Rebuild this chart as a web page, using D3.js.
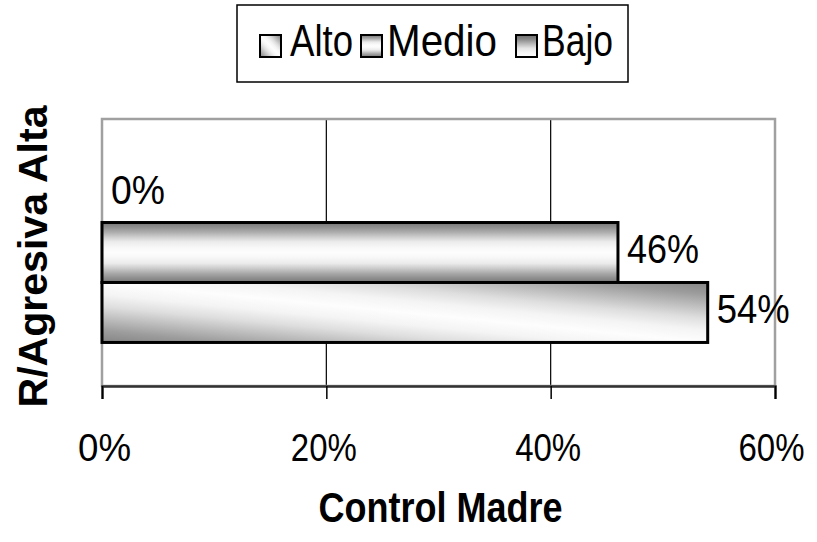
<!DOCTYPE html>
<html>
<head>
<meta charset="utf-8">
<script src="https://cdn.jsdelivr.net/npm/d3@7"></script>
<style>
  html, body { margin: 0; padding: 0; background: #fff; }
  svg { display: block; font-family: Arial, "Liberation Sans", sans-serif; }
</style>
</head>
<body>
<svg id="chart" width="817" height="542"></svg>
<script>
// ---- data ----
const categories = ["R/Agresiva Alta"];
const seriesNames = ["Bajo", "Medio", "Alto"];      // top to bottom in the plot
const seriesValues = [0, 46, 54];                    // percent
const legendNames = ["Alto", "Medio", "Bajo"];
const xTickValues = [0, 20, 40, 60];
const xAxisTitle = "Control Madre";

// ---- layout ----
const plot = { left: 102, right: 775, top: 119, bottom: 386 };
const svg = d3.select("#chart");
const defs = svg.append("defs");

function bandGradient(id, x1, y1, x2, y2, stops) {
  const g = defs.append("linearGradient").attr("id", id)
    .attr("x1", x1).attr("y1", y1).attr("x2", x2).attr("y2", y2);
  stops.forEach(s => g.append("stop").attr("offset", s[0]).attr("stop-color", s[1]));
}
// Medio: dark edges, white center (horizontal stripes)
bandGradient("gMedio", 0, 0, 0, 1, [
  [0, "#787878"], [0.08, "#909090"], [0.16, "#acacac"], [0.24, "#cdcdcd"],
  [0.32, "#ebebeb"], [0.42, "#f8f8f8"], [0.5, "#fdfdfd"], [0.58, "#f8f8f8"],
  [0.68, "#ebebeb"], [0.76, "#cdcdcd"], [0.84, "#acacac"], [0.92, "#909090"], [1, "#787878"]
]);
// Alto: diagonal dark - white - dark
bandGradient("gAlto", 0, 1, 1, 0, [
  [0, "#858585"], [0.1, "#9c9c9c"], [0.2, "#bdbdbd"], [0.3, "#dedede"],
  [0.4, "#f4f4f4"], [0.5, "#fdfdfd"], [0.6, "#f4f4f4"], [0.7, "#dedede"],
  [0.8, "#bdbdbd"], [0.9, "#9c9c9c"], [1, "#858585"]
]);
// Bajo: dark top to white bottom
bandGradient("gBajo", 0, 0, 0, 1, [
  [0, "#6c6c6c"], [0.2, "#8a8a8a"], [0.4, "#b8b8b8"], [0.6, "#e4e4e4"], [0.8, "#f6f6f6"], [1, "#fdfdfd"]
]);
const fills = { Alto: "url(#gAlto)", Medio: "url(#gMedio)", Bajo: "url(#gBajo)" };

// ---- scales ----
const x = d3.scaleLinear().domain([0, 60]).range([plot.left, plot.right]);
const yCat = d3.scaleBand().domain(categories).range([plot.top, plot.bottom])
  .paddingInner(0).paddingOuter(0.242);
const ySer = d3.scaleBand().domain(seriesNames).range([0, yCat.bandwidth()]).padding(0);

// gridlines
svg.append("g").selectAll("line").data(xTickValues.filter(v => v > 0 && v < 60)).join("line")
  .attr("x1", d => x(d)).attr("x2", d => x(d))
  .attr("y1", plot.top).attr("y2", plot.bottom)
  .attr("stroke", "#000").attr("stroke-width", 1.2);

// plot border (gray)
svg.append("rect")
  .attr("x", plot.left).attr("y", plot.top)
  .attr("width", plot.right - plot.left).attr("height", plot.bottom - plot.top)
  .attr("fill", "none").attr("stroke", "#a0a0a0").attr("stroke-width", 2.5);

// bars
const data = seriesNames.map((s, i) => ({ s, v: seriesValues[i] }));
const gBars = svg.append("g").attr("transform", `translate(0,${yCat(categories[0])})`);
gBars.selectAll("rect").data(data.filter(d => d.v > 0)).join("rect")
  .attr("x", x(0)).attr("y", d => ySer(d.s))
  .attr("width", d => x(d.v) - x(0)).attr("height", ySer.bandwidth())
  .attr("fill", d => fills[d.s]).attr("stroke", "#000").attr("stroke-width", 3);

// data labels
const labelWidths = { "0%": 54, "46%": 72, "54%": 73 };
gBars.selectAll("text").data(data).join("text")
  .attr("x", d => x(d.v) + 9)
  .attr("y", d => ySer(d.s) + ySer.bandwidth() / 2 + 11)
  .attr("font-size", 40).attr("fill", "#000")
  .attr("textLength", d => labelWidths[d.v + "%"]).attr("lengthAdjust", "spacingAndGlyphs")
  .text(d => d.v + "%");

// x axis
const axis = d3.axisBottom(x).tickValues(xTickValues).tickSize(13).tickFormat(d => d + "%");
const gx = svg.append("g").attr("transform", `translate(0,${plot.bottom})`).call(axis);
gx.select(".domain").attr("stroke", "#333").attr("stroke-width", 2.5);
gx.selectAll(".tick line").attr("stroke", "#000").attr("stroke-width", 1.5);
gx.selectAll(".tick text")
  .attr("y", 75).attr("dy", 0).attr("x", d => d === 0 ? 2 : (d === 60 ? -4 : -3))
  .attr("font-size", 39).attr("fill", "#000")
  .attr("font-family", "Arial, 'Liberation Sans', sans-serif")
  .attr("textLength", d => d === 0 ? 53 : 66).attr("lengthAdjust", "spacingAndGlyphs");

// axis titles
svg.append("text").attr("x", (plot.left + plot.right) / 2 + 2).attr("y", 522)
  .attr("text-anchor", "middle").attr("font-size", 42).attr("font-weight", "bold")
  .attr("textLength", 244).attr("lengthAdjust", "spacingAndGlyphs")
  .text(xAxisTitle);
svg.append("text")
  .attr("transform", `translate(47,${(plot.top + plot.bottom) / 2 + 4}) rotate(-90)`)
  .attr("text-anchor", "middle").attr("font-size", 41).attr("font-weight", "bold")
  .attr("textLength", 302).attr("lengthAdjust", "spacingAndGlyphs")
  .text(categories[0]);

// legend
const legendBox = { x: 237, y: 5, w: 391, h: 77 };
svg.append("rect").attr("x", legendBox.x).attr("y", legendBox.y)
  .attr("width", legendBox.w).attr("height", legendBox.h)
  .attr("fill", "#fff").attr("stroke", "#000").attr("stroke-width", 1.5);
const legendIconX = [260, 361, 516];
const legendTextX = [290, 387, 542];
const legendTextW = { Alto: 63, Medio: 110, Bajo: 71 };
legendNames.forEach((n, i) => {
  svg.append("rect").attr("x", legendIconX[i]).attr("y", 35).attr("width", 21).attr("height", 22)
    .attr("fill", fills[n]).attr("stroke", "#000").attr("stroke-width", 2);
  svg.append("text").attr("x", legendTextX[i]).attr("y", 56)
    .attr("font-size", 44).attr("fill", "#000")
    .attr("textLength", legendTextW[n]).attr("lengthAdjust", "spacingAndGlyphs")
    .text(n);
});
</script>
</body>
</html>
